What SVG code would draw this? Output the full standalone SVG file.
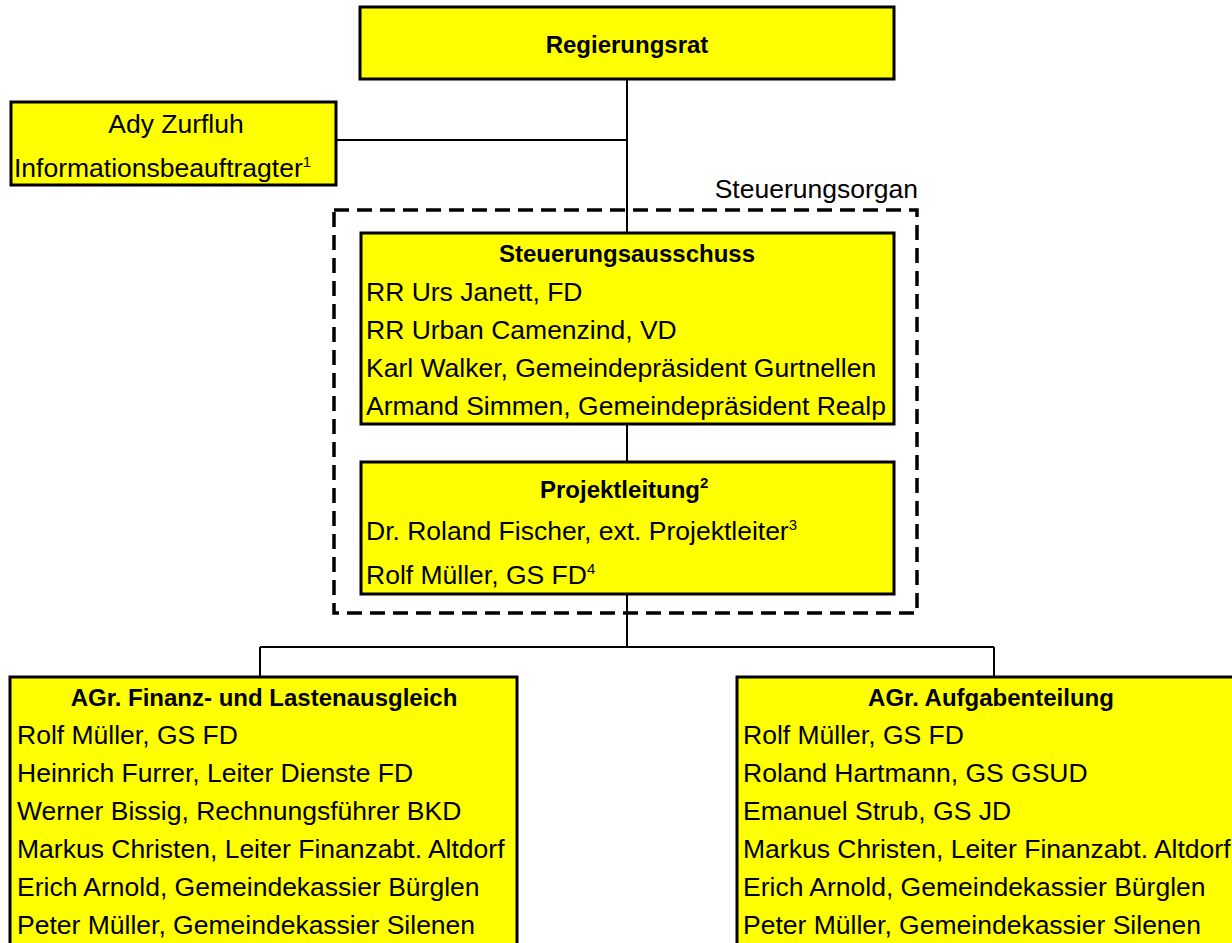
<svg xmlns="http://www.w3.org/2000/svg" width="1232" height="943" viewBox="0 0 1232 943">
<style>
.box{fill:#FFFF00;stroke:#000;stroke-width:3}
.t{font-family:"Liberation Sans",Arial,sans-serif;font-size:26.5px;fill:#000}
.b{font-family:"Liberation Sans",Arial,sans-serif;font-size:24px;font-weight:bold;fill:#000}
.c{text-anchor:middle}
.sup{font-size:15px}
.con{stroke:#000;stroke-width:2;fill:none}
.dash{fill:none;stroke:#000;stroke-width:3.5;stroke-dasharray:15 8}
</style>
<rect width="1232" height="943" fill="#fff"/>
<g id="steuerungsorgan">
<rect class="dash" x="334" y="210" width="583" height="403"/>
<text class="t" x="918" y="198" text-anchor="end">Steuerungsorgan</text>
</g>
<g id="connectors">
<line class="con" x1="627" y1="79" x2="627" y2="233"/>
<line class="con" x1="336" y1="140" x2="627" y2="140"/>
<line class="con" x1="627" y1="424" x2="627" y2="462"/>
<line class="con" x1="627" y1="594" x2="627" y2="647"/>
<line class="con" x1="260" y1="647" x2="994" y2="647"/>
<line class="con" x1="260" y1="647" x2="260" y2="677"/>
<line class="con" x1="994" y1="647" x2="994" y2="677"/>
</g>
<g id="regierungsrat">
<rect class="box" x="360" y="7" width="534" height="72"/>
<text class="b c" x="627" y="53">Regierungsrat</text>
</g>
<g id="informationsbeauftragter">
<rect class="box" x="11" y="102" width="325" height="83"/>
<text class="t c" x="176" y="133">Ady Zurfluh</text>
<text class="t" x="14" y="177">Informationsbeauftragter<tspan class="sup" dy="-10">1</tspan></text>
</g>
<g id="steuerungsausschuss">
<rect class="box" x="361" y="233" width="533" height="191"/>
<text class="b c" x="627" y="262">Steuerungsausschuss</text>
<text class="t" x="366" y="301">RR Urs Janett, FD</text>
<text class="t" x="366" y="339">RR Urban Camenzind, VD</text>
<text class="t" x="366" y="377">Karl Walker, Gemeindepräsident Gurtnellen</text>
<text class="t" x="366" y="415">Armand Simmen, Gemeindepräsident Realp</text>
</g>
<g id="projektleitung">
<rect class="box" x="361" y="462" width="533" height="132"/>
<text class="b" x="540" y="498">Projektleitung<tspan class="sup" dy="-10">2</tspan></text>
<text class="t" x="366" y="540">Dr. Roland Fischer, ext. Projektleiter<tspan class="sup" dy="-10">3</tspan></text>
<text class="t" x="366" y="584">Rolf Müller, GS FD<tspan class="sup" dy="-10">4</tspan></text>
</g>
<g id="agr-finanz">
<rect class="box" x="10" y="677" width="507" height="290"/>
<text class="b c" x="264" y="706">AGr. Finanz- und Lastenausgleich</text>
<text class="t" x="17" y="744">Rolf Müller, GS FD</text>
<text class="t" x="17" y="782">Heinrich Furrer, Leiter Dienste FD</text>
<text class="t" x="17" y="820">Werner Bissig, Rechnungsführer BKD</text>
<text class="t" x="17" y="858">Markus Christen, Leiter Finanzabt. Altdorf</text>
<text class="t" x="17" y="896">Erich Arnold, Gemeindekassier Bürglen</text>
<text class="t" x="17" y="934">Peter Müller, Gemeindekassier Silenen</text>
</g>
<g id="agr-aufgaben">
<rect class="box" x="737" y="677" width="508" height="290"/>
<text class="b c" x="991" y="706">AGr. Aufgabenteilung</text>
<text class="t" x="743" y="744">Rolf Müller, GS FD</text>
<text class="t" x="743" y="782">Roland Hartmann, GS GSUD</text>
<text class="t" x="743" y="820">Emanuel Strub, GS JD</text>
<text class="t" x="743" y="858">Markus Christen, Leiter Finanzabt. Altdorf</text>
<text class="t" x="743" y="896">Erich Arnold, Gemeindekassier Bürglen</text>
<text class="t" x="743" y="934">Peter Müller, Gemeindekassier Silenen</text>
</g>
</svg>
